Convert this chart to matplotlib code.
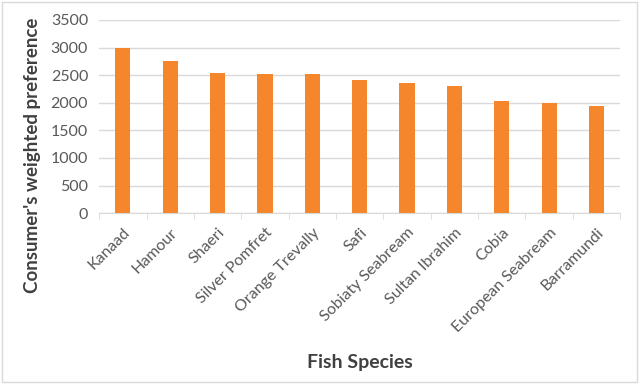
import matplotlib.pyplot as plt
from matplotlib.patches import Rectangle

# Fish species and consumer's weighted preference scores
species = ['Kanaad', 'Hamour', 'Shaeri', 'Silver Pomfret', 'Orange Trevally', 'Safi',
           'Sobiaty Seabream', 'Sultan Ibrahim', 'Cobia', 'European Seabream', 'Barramundi']
preference = [3000, 2760, 2530, 2520, 2515, 2410, 2360, 2300, 2040, 2000, 1950]
yticks = [0, 500, 1000, 1500, 2000, 2500, 3000, 3500]

plt.rcParams['font.family'] = ['Lato', 'DejaVu Sans']

fig = plt.figure(figsize=(6.4, 3.84), dpi=100)
ax = fig.add_axes([0.155, 0.445, 0.814, 0.503])

x = range(len(species))
ax.bar(x, preference, width=0.32, color='#F5862B', zorder=3)

ax.set_xlim(-0.5, len(species) - 0.5)
ax.set_ylim(0, 3500)
ax.set_yticks(yticks)
ax.yaxis.grid(True, color='#D9D9D9', linewidth=1, zorder=0)

# category labels between tick marks, like Excel
ax.set_xticks(list(x))
ax.set_xticklabels(species, rotation=45, ha='right', rotation_mode='anchor',
                   fontsize=11.5, color='#595959')
ax.set_xticks([i - 0.5 for i in range(len(species) + 1)], minor=True)
ax.tick_params(axis='x', which='major', length=0, pad=9)
ax.tick_params(axis='x', which='minor', length=4, color='#D9D9D9')
ax.tick_params(axis='y', length=0, labelsize=11.5, labelcolor='#595959', pad=8)

for side in ['top', 'right', 'left']:
    ax.spines[side].set_visible(False)
ax.spines['bottom'].set_color('#D9D9D9')

ax.set_ylabel("Consumer's weighted preference", fontsize=13.5, fontweight='bold', color='#404040')
ax.yaxis.set_label_coords(-0.111, 0.30)
ax.set_xlabel('Fish Species', fontsize=14, fontweight='bold', color='#404040')
ax.xaxis.set_label_coords(0.5, -0.73)

# light chart border
fig.patches.append(Rectangle((0.003, 0.006), 0.992, 0.988, transform=fig.transFigure,
                             fill=False, edgecolor='#D9D9D9', linewidth=1))

fig.savefig('out.png', dpi=100)
